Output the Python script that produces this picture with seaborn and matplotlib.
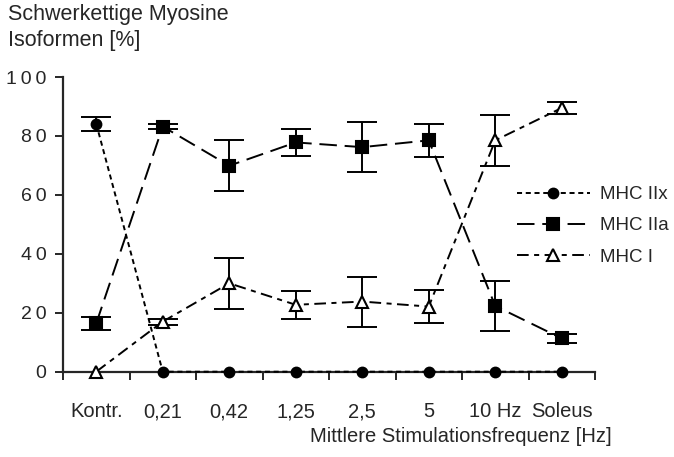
import matplotlib
matplotlib.use("Agg")
import matplotlib.pyplot as plt
import seaborn as sns
import pandas as pd

categories = ["Kontr.", "0,21", "0,42", "1,25", "2,5", "5", "10 Hz", "Soleus"]
mhc_iix = [84.1, 0, 0, 0, 0, 0, 0, 0]
mhc_iix_err = [2.4, 0, 0, 0, 0, 0, 0, 0]
mhc_iia = [16.4, 83.2, 69.9, 77.8, 76.2, 78.5, 22.3, 11.3]
mhc_iia_err = [2.2, 1.0, 8.7, 4.6, 8.6, 5.5, 8.6, 1.5]
mhc_i = [0, 17.0, 30.0, 22.7, 23.8, 22.1, 78.5, 89.5]
mhc_i_err = [0, 1.0, 8.7, 4.7, 8.5, 5.5, 8.6, 2.0]
series = ["MHC IIx", "MHC IIa", "MHC I"]
y_ticks = [0, 20, 40, 60, 80, 100]

sns.set_style("ticks")
plt.rcParams["font.family"] = ["Liberation Sans", "DejaVu Sans"]

rows = []
for name, vals in zip(series, [mhc_iix, mhc_iia, mhc_i]):
    for c, v in zip(categories, vals):
        rows.append({"Frequenz": c, "Anteil": v, "Isoform": name})
df = pd.DataFrame(rows)

fig = plt.figure(figsize=(6.74, 4.57), dpi=100)
ax = fig.add_axes([63 / 674, 1 - 371.7 / 457, 532 / 674, 294.7 / 457])

lw = 1.4
dashes = {"MHC IIx": (2.6, 1.9), "MHC IIa": (9, 4), "MHC I": (6, 2.8, 2.6, 2.8)}
markers = {"MHC IIx": "o", "MHC IIa": "s", "MHC I": "^"}
sns.lineplot(data=df, x="Frequenz", y="Anteil", hue="Isoform", style="Isoform",
             palette=["black"] * 3, dashes=dashes, markers=markers, ax=ax,
             linewidth=lw, legend=False, sort=False)

msize = {"MHC IIx": 7, "MHC IIa": 9, "MHC I": 8}
for line, name in zip(ax.get_lines(), series):
    line.set_markersize(msize[name])
    line.set_markeredgecolor("black")
    line.set_markeredgewidth(1.5)
    line.set_markerfacecolor("white" if name == "MHC I" else "black")
    line.set_zorder(3)
    line.set_clip_on(False)
    line.set_label(name)

xpos = list(range(len(categories)))
for vals, errs in [(mhc_iix, mhc_iix_err), (mhc_iia, mhc_iia_err), (mhc_i, mhc_i_err)]:
    sel = [i for i, e in enumerate(errs) if e > 0]
    ax.errorbar([xpos[i] for i in sel], [vals[i] for i in sel], yerr=[errs[i] for i in sel],
                fmt="none", ecolor="black", elinewidth=1.4, capsize=11, capthick=1.4, zorder=2)

ax.set_xlim(-0.5, len(categories) - 0.5)
ax.set_ylim(0, 100)
ax.set_xticks([i + 0.5 for i in range(-1, len(categories))])
ax.set_xticklabels([])
ax.set_xticks(xpos, minor=True)
ax.set_xticklabels(categories, minor=True, fontsize=14.5)
ax.tick_params(axis="x", which="minor", length=0, pad=22)
ax.tick_params(axis="x", which="major", length=6, width=1.4, direction="out")
ax.set_yticks(y_ticks)
ax.set_yticklabels(["\u2009".join(str(t)) for t in y_ticks], fontsize=14)
ax.tick_params(axis="y", length=6, width=1.4, direction="out", pad=6)
for s in ["top", "right"]:
    ax.spines[s].set_visible(False)
for s in ["left", "bottom"]:
    ax.spines[s].set_linewidth(1.6)
ax.set_xlabel("")
ax.set_ylabel("")

fig.text(8 / 674, 1 - 4 / 457, "Schwerkettige Myosine\nIsoformen [%]", fontsize=15.5,
         ha="left", va="top", linespacing=1.3)
fig.text(612 / 674, 1 - 437 / 457, "Mittlere Stimulationsfrequenz [Hz]", fontsize=14.5,
         ha="right", va="center")

handles = ax.get_lines()[:3]
ax.legend(handles=handles, labels=series, loc="center left", bbox_to_anchor=(0.853, 0.495),
          frameon=False, handlelength=3.9, handletextpad=0.55, labelspacing=0.75,
          fontsize=13.5, borderpad=0, borderaxespad=0)

fig.savefig("out.png", dpi=100)
